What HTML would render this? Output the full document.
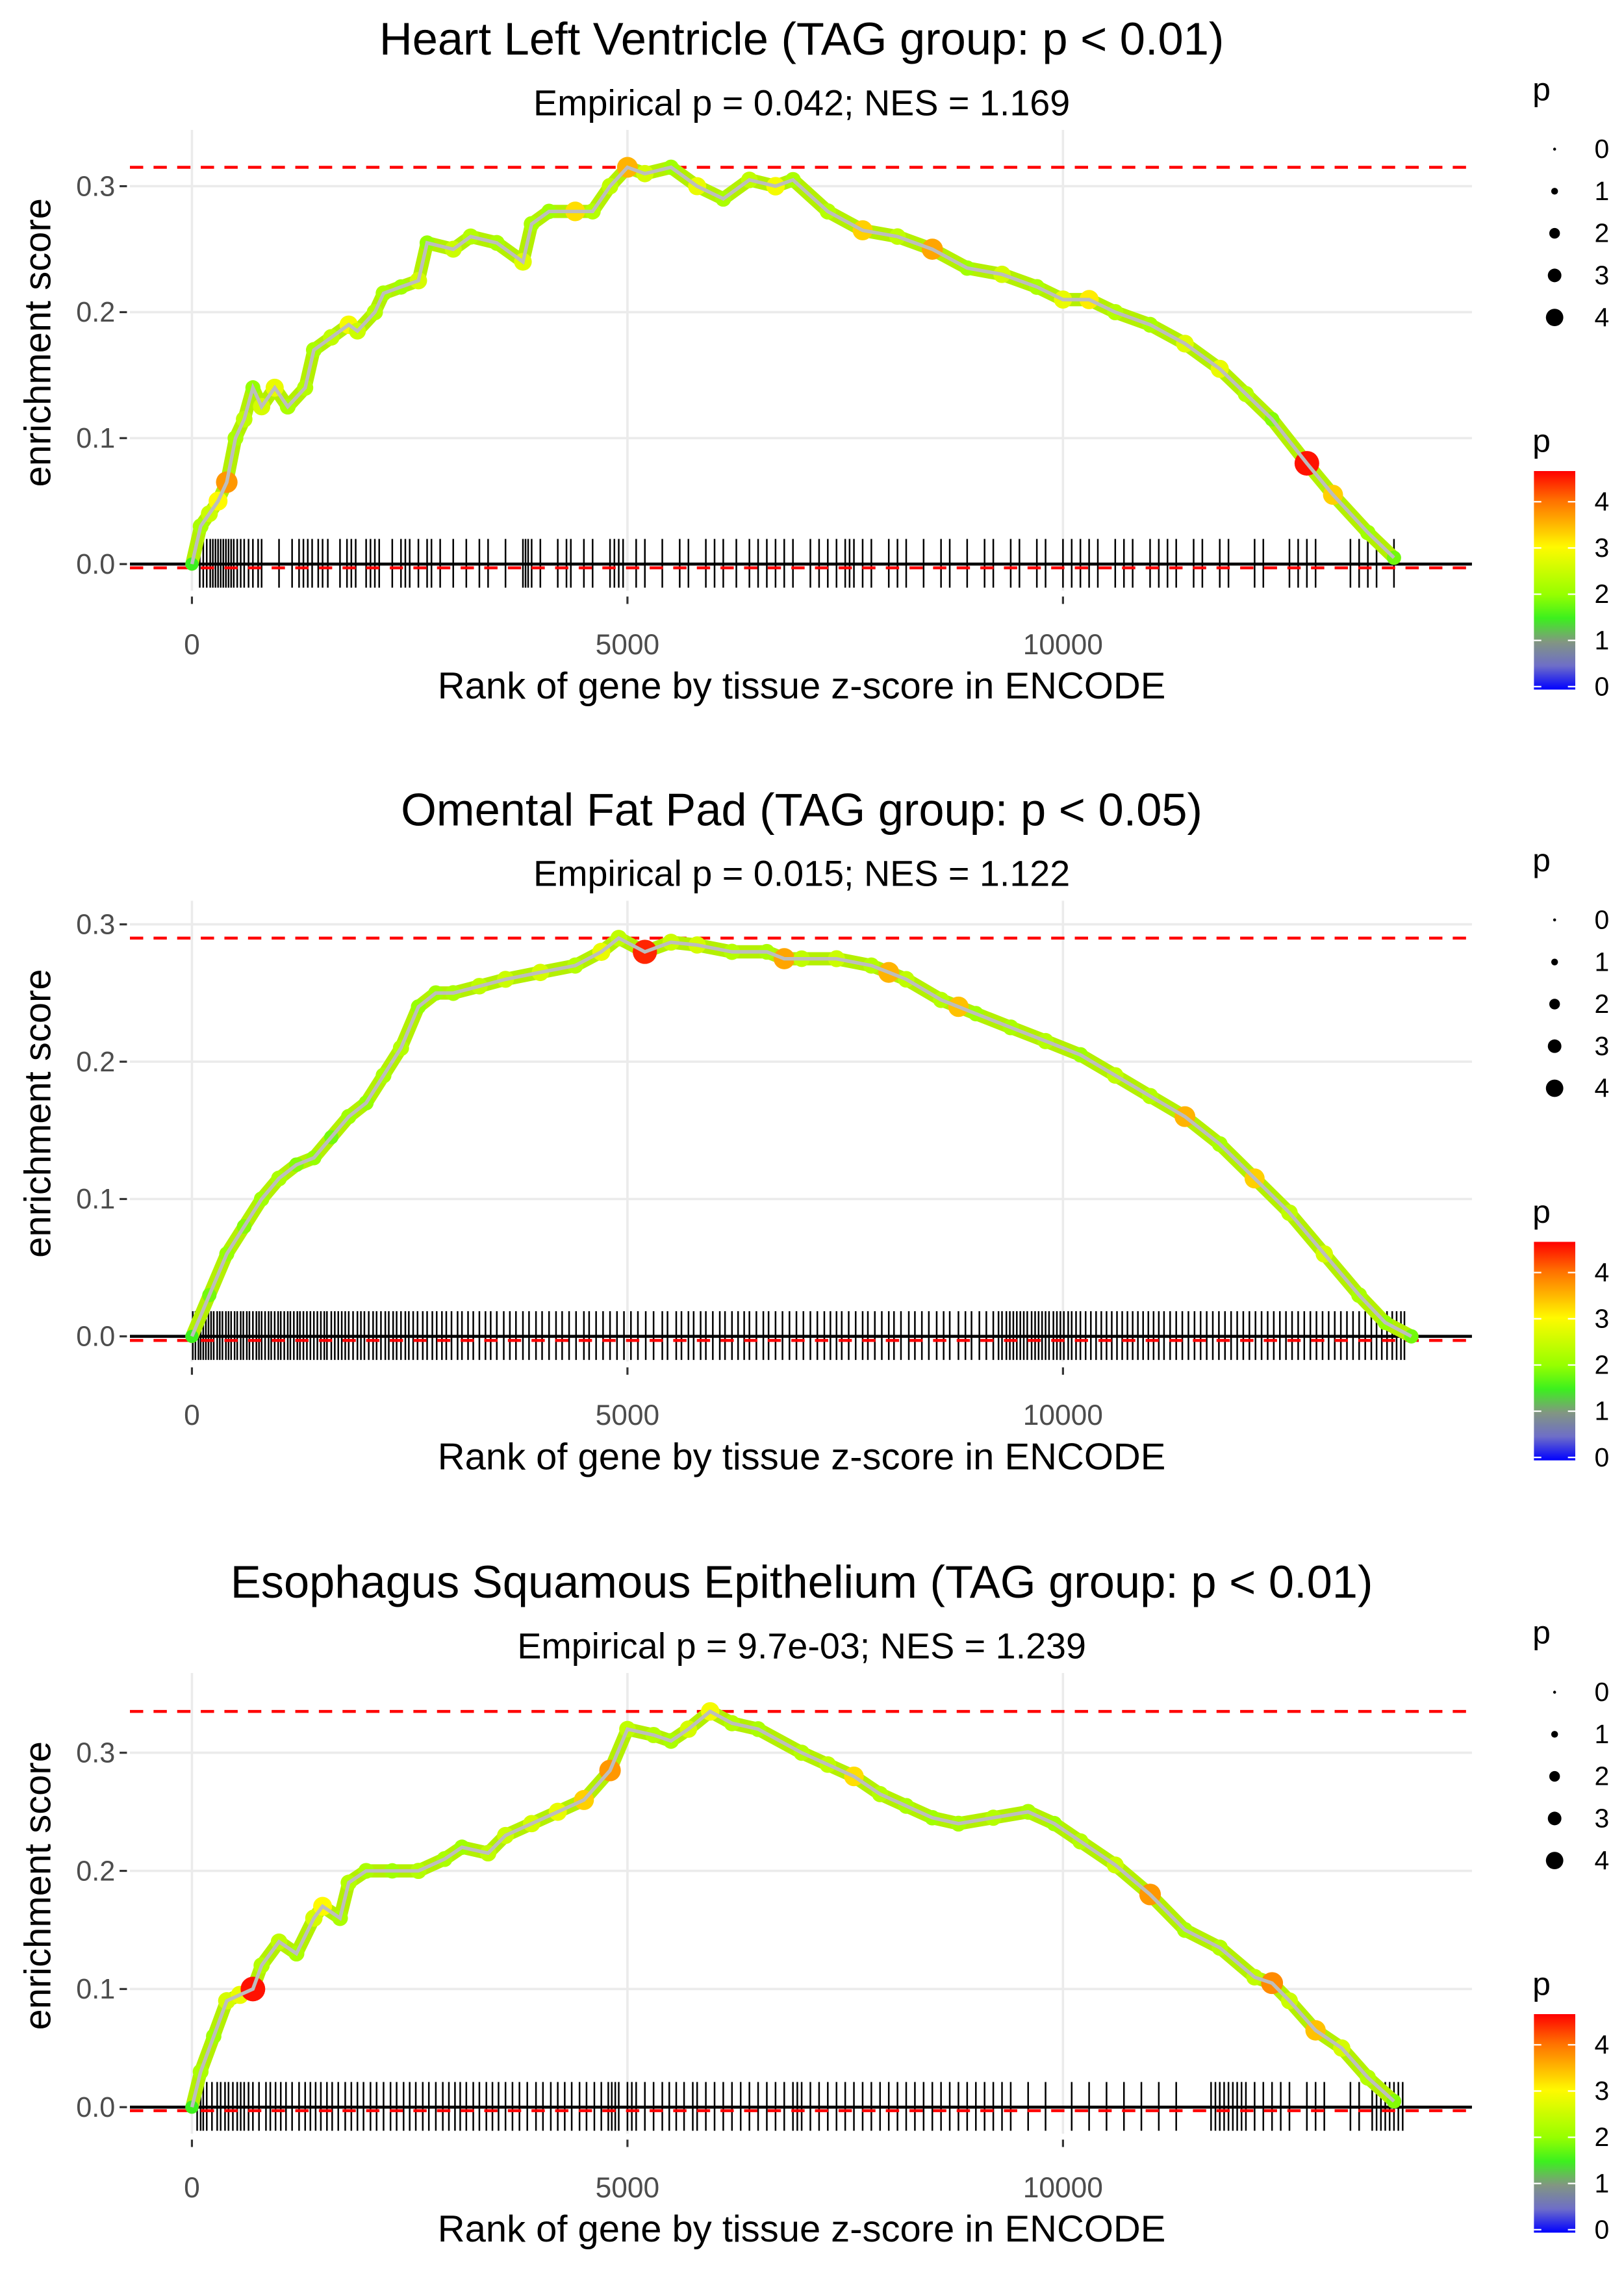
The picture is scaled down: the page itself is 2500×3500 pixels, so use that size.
<!DOCTYPE html>
<html><head><meta charset="utf-8"><style>
html,body{margin:0;padding:0;background:#fff}
svg{display:block;font-family:"Liberation Sans",sans-serif}
</style></head><body>
<svg id="chart" width="2500" height="3500" viewBox="0 0 1100 1540" xmlns="http://www.w3.org/2000/svg"></svg>
<script>
// ---- Panel 1: Heart Left Ventricle ----
const p1Rank=[0,100,200,300,400,500,600,700,800,950,1100,1300,1400,1600,1800,1900,2100,2200,2400,2600,2700,3000,3200,3500,3800,3900,4100,4400,4600,4800,5000,5200,5500,5800,6100,6400,6700,6900,7300,7700,8100,8500,8900,9300,9700,10000,10300,10600,11000,11400,11800,12100,12400,12800,13100,13500,13800];
const p1ES=[0,0.03,0.04,0.05,0.065,0.1,0.115,0.14,0.125,0.14,0.125,0.14,0.17,0.18,0.19,0.185,0.2,0.215,0.22,0.225,0.255,0.25,0.26,0.255,0.24,0.27,0.28,0.28,0.28,0.30,0.315,0.31,0.315,0.30,0.29,0.305,0.30,0.305,0.28,0.265,0.26,0.25,0.235,0.23,0.22,0.21,0.21,0.2,0.19,0.175,0.155,0.135,0.115,0.08,0.055,0.025,0.005];
const p1P=[1.5,2.2,2.5,3,3.7,2.2,2.4,2,2.6,2.8,2.2,2.3,2.2,2.4,2.9,2.5,2.3,2.2,2.1,2.6,2,2.5,2.3,2.2,2.7,2.2,2.1,3.2,2.3,2.4,3.5,2.6,2.1,2.8,2.2,2.4,2.9,2.2,2.3,3.3,2.4,3.6,2.1,2.6,2.2,2.8,3.1,2.3,2.2,2.7,2.8,2.3,1.9,4.5,3.3,2.1,1.8];
const p1Rug=[90,130,170,210,240,270,300,330,360,390,420,450,480,520,560,600,650,700,760,800,1000,1150,1230,1280,1330,1380,1450,1500,1560,1700,1780,1830,1880,2000,2050,2100,2150,2300,2400,2450,2500,2600,2700,2750,2850,3000,3150,3300,3400,3600,3800,3830,3860,3900,4000,4200,4300,4350,4500,4600,4800,4850,4900,4950,5100,5200,5400,5600,5700,5900,6000,6100,6250,6400,6500,6600,6700,6800,6900,7100,7200,7300,7400,7500,7550,7600,7700,7800,8000,8100,8200,8400,8600,8700,8900,9100,9200,9400,9500,9700,9800,10000,10100,10200,10300,10400,10600,10700,10800,11000,11100,11200,11300,11500,11600,11800,11900,12200,12300,12600,12700,12800,12900,13300,13400,13500,13600,13800];
// ---- Panel 2: Omental Fat Pad ----
const p2Rank=[0,200,400,600,800,1000,1200,1400,1600,1800,2000,2200,2400,2600,2800,3000,3300,3600,4000,4400,4700,4900,5200,5500,5800,6200,6600,6800,7000,7400,7800,8000,8200,8600,8800,9000,9400,9800,10200,10600,11000,11400,11800,12200,12600,13000,13400,13700,14000];
const p2ES=[0,0.03,0.06,0.08,0.1,0.115,0.125,0.13,0.145,0.16,0.17,0.19,0.21,0.24,0.25,0.25,0.255,0.26,0.265,0.27,0.28,0.29,0.28,0.287,0.285,0.28,0.28,0.275,0.275,0.275,0.27,0.265,0.26,0.245,0.24,0.235,0.225,0.215,0.205,0.19,0.175,0.16,0.14,0.115,0.09,0.06,0.03,0.01,0];
const p2P=[1.5,1.8,2,1.9,2.1,2.2,1.9,2,1.8,2.1,2,2.2,2.3,2,2.1,2.2,2.4,2.5,2.6,2.3,2.8,2.4,4.4,2.5,2.6,2.3,2.2,3.6,2.4,2.5,2.3,3.5,2.4,2.3,3.4,2.1,2.2,2.3,2.1,2.4,2.3,3.5,2.2,3.3,2.4,2.6,2.2,2,1.8];
const p2Rug=[10,40,75,100,130,160,190,220,250,290,320,350,390,420,450,490,520,560,590,630,660,700,740,770,800,840,880,910,950,990,1020,1060,1100,1130,1170,1210,1240,1280,1320,1360,1400,1440,1480,1520,1550,1600,1640,1680,1720,1760,1800,1850,1900,1940,1980,2030,2080,2120,2170,2220,2260,2310,2350,2400,2450,2490,2540,2590,2650,2700,2760,2810,2870,2920,2980,3050,3100,3170,3230,3300,3370,3430,3500,3580,3650,3720,3800,3870,3950,4020,4100,4180,4250,4330,4410,4500,4560,4640,4720,4800,4880,4960,5040,5120,5210,5300,5400,5460,5560,5620,5700,5760,5840,5900,5980,6060,6120,6200,6270,6340,6400,6480,6560,6620,6700,6780,6860,6940,7020,7100,7180,7260,7330,7400,7460,7540,7620,7700,7760,7840,7920,8000,8060,8140,8230,8300,8380,8460,8550,8630,8700,8800,8880,8950,9040,9120,9200,9260,9300,9350,9390,9430,9470,9510,9550,9590,9640,9680,9720,9760,9800,9840,9890,9930,9970,10010,10060,10100,10150,10200,10260,10320,10380,10440,10500,10560,10620,10680,10740,10800,10860,10920,10980,11040,11100,11160,11230,11300,11370,11440,11510,11580,11650,11720,11790,11860,11930,12000,12070,12140,12210,12280,12350,12420,12490,12560,12630,12700,12770,12840,12910,12980,13050,13120,13190,13260,13330,13400,13470,13540,13600,13660,13720,13780,13830,13880,13920];
// ---- Panel 3: Esophagus Squamous Epithelium ----
const p3Rank=[0,100,250,400,550,700,800,1000,1200,1400,1500,1700,1800,2000,2300,2600,2900,3100,3400,3600,3900,4200,4500,4800,5000,5300,5500,5700,5950,6200,6500,7000,7300,7600,7900,8200,8500,8800,9200,9600,9900,10200,10600,11000,11400,11800,12200,12400,12600,12900,13200,13500,13800];
const p3ES=[0,0.03,0.06,0.09,0.095,0.1,0.12,0.14,0.13,0.16,0.17,0.16,0.19,0.2,0.2,0.2,0.21,0.22,0.215,0.23,0.24,0.25,0.26,0.285,0.32,0.315,0.31,0.32,0.335,0.325,0.32,0.3,0.29,0.28,0.265,0.255,0.245,0.24,0.245,0.25,0.24,0.225,0.205,0.18,0.15,0.135,0.11,0.105,0.09,0.065,0.05,0.025,0.005];
const p3P=[1.5,2.2,2.1,2.6,2.8,4.5,2.3,2.4,2.2,2.6,3,2.2,2.3,2.2,2.1,2.3,2.2,2.1,2.4,2.5,2.6,2.8,3.3,3.7,2.4,2.3,2.2,2.6,2.9,2.3,2.2,2.3,2.4,3.2,2.3,2.2,2.1,2.2,2.3,2.2,2.1,2.3,2.5,3.7,2.2,2.3,2.4,3.8,2.5,3.4,2.6,2.3,1.9];
const p3Rug=[60,100,130,170,230,290,330,380,420,470,520,560,600,650,700,770,850,900,960,1020,1080,1150,1230,1300,1360,1420,1480,1550,1610,1680,1760,1830,1900,1970,2050,2120,2200,2280,2350,2430,2500,2570,2650,2720,2800,2880,2950,3020,3080,3150,3230,3300,3380,3450,3520,3600,3680,3760,3850,3950,4030,4120,4200,4280,4360,4450,4530,4620,4700,4780,4820,4860,4900,5000,5050,5100,5200,5300,5400,5480,5560,5650,5750,5800,5900,6000,6100,6200,6300,6400,6500,6600,6700,6800,6900,6950,7000,7100,7200,7300,7400,7500,7600,7700,7800,7900,8000,8100,8200,8300,8400,8500,8600,8700,8800,8900,9000,9100,9200,9300,9400,9600,9800,10100,10300,10500,10700,10900,11100,11300,11700,11750,11800,11850,11900,11950,12000,12050,12100,12200,12300,12400,12500,12600,12800,12900,13000,13300,13400,13550,13600,13650,13700,13750,13800,13850,13900];

const NS="http://www.w3.org/2000/svg";
const svg=document.getElementById('chart');
function mk(tag,attrs,parent){const e=document.createElementNS(NS,tag);for(const k in attrs)e.setAttribute(k,attrs[k]);(parent||svg).appendChild(e);return e;}
function txt(s,attrs,parent){const e=mk('text',attrs,parent);e.textContent=s;return e;}
const stops=[[0,[0,0,255]],[0.5,[110,110,200]],[1,[130,150,130]],[1.5,[60,240,30]],[2,[150,255,0]],[3,[255,250,0]],[3.6,[255,165,0]],[4,[255,110,0]],[4.6,[255,0,0]]];
function pcol(p){if(p<=0)return 'rgb(0,0,255)';for(let i=1;i<stops.length;i++){if(p<=stops[i][0]){const a=stops[i-1],b=stops[i],t=(p-a[0])/(b[0]-a[0]);const c=a[1].map((v,j)=>Math.round(v+(b[1][j]-v)*t));return `rgb(${c})`;}}return 'rgb(255,0,0)';}
function prad(p){return 2.5+p*1.3;}

const panels=[
 {title:'Heart Left Ventricle (TAG group: p < 0.01)',sub:'Empirical p = 0.042; NES = 1.169',dy:0,y0:382,perUnit:853,ranks:p1Rank,es:p1ES,ps:p1P,rug:p1Rug,key:'heart'},
 {title:'Omental Fat Pad (TAG group: p < 0.05)',sub:'Empirical p = 0.015; NES = 1.122',dy:522,y0:905,perUnit:930,ranks:p2Rank,es:p2ES,ps:p2P,rug:p2Rug,key:'omental'},
 {title:'Esophagus Squamous Epithelium (TAG group: p < 0.01)',sub:'Empirical p = 9.7e-03; NES = 1.239',dy:1045,y0:1427,perUnit:800,ranks:p3Rank,es:p3ES,ps:p3P,rug:p3Rug,key:'esophagus'}
];
const xTicks=[0,5000,10000];
const yTicks=[0,0.1,0.2,0.3];
const legendSizes=[0,1,2,3,4];
const PL=88,PR=997;
function xs(r){return 130+r*0.059;}

panels.forEach((P,pi)=>{
 const g=mk('g',{});
 
 
 const ys=v=>P.y0-v*P.perUnit;
 const top=88+P.dy,bot=400+P.dy;
 const t=txt(P.title,{x:543,y:37+P.dy,'text-anchor':'middle','font-size':31,fill:'#000'},g);
 
 
 const s=txt(P.sub,{x:543,y:78+P.dy,'text-anchor':'middle','font-size':24.5,fill:'#000'},g);
 
 
 yTicks.forEach(v=>{const l=mk('line',{x1:PL,x2:PR,y1:ys(v),y2:ys(v),stroke:'#ebebeb','stroke-width':1.6},g);
  
  
  const lb=txt(v.toFixed(1),{x:78,y:ys(v)+6.5,'text-anchor':'end','font-size':19,fill:'#4d4d4d'},g);
  
  
  mk('line',{x1:81,x2:86,y1:ys(v),y2:ys(v),stroke:'#333','stroke-width':1.4},g);});
 xTicks.forEach(v=>{const l=mk('line',{x1:xs(v),x2:xs(v),y1:top,y2:bot,stroke:'#ebebeb','stroke-width':1.6},g);
  
  
  mk('line',{x1:xs(v),x2:xs(v),y1:bot+4,y2:bot+9,stroke:'#333','stroke-width':1.4},g);
  const lb=txt(String(v),{x:xs(v),y:bot+43,'text-anchor':'middle','font-size':19.5,fill:'#4d4d4d'},g);
  
  });
 const xt=txt('Rank of gene by tissue z-score in ENCODE',{x:543,y:bot+73,'text-anchor':'middle','font-size':25.5,fill:'#000'},g);
 
 
 const yt=txt('enrichment score',{x:0,y:0,'text-anchor':'middle','font-size':25.5,fill:'#000',transform:`translate(34,${(top+bot)/2-12}) rotate(-90)`},g);
 
 
 P.rug.forEach(r=>{const l=mk('line',{x1:xs(r),x2:xs(r),y1:P.y0-17,y2:P.y0+16,stroke:'#000','stroke-width':1.1},g);
  
  });
 const zl=mk('line',{x1:PL,x2:PR,y1:P.y0,y2:P.y0,stroke:'#000','stroke-width':2},g);
 
 
 const mx=Math.max(...P.es);
 const d1=mk('line',{x1:PL,x2:PR,y1:ys(mx),y2:ys(mx),stroke:'#f00','stroke-width':2,'stroke-dasharray':'9 7'},g);
 
 
 const d2=mk('line',{x1:PL,x2:PR,y1:ys(-0.003),y2:ys(-0.003),stroke:'#f00','stroke-width':2,'stroke-dasharray':'9 7'},g);
 
 
 // thick colored band underneath (mimics dense overlapping points)
 const path=P.ranks.map((r,i)=>`${xs(r).toFixed(1)},${ys(P.es[i]).toFixed(1)}`).join(' ');
 const band=mk('polyline',{points:path,fill:'none',stroke:'#b4f000','stroke-width':9,'stroke-linejoin':'round','stroke-linecap':'round'},g);
 
 
 P.ranks.forEach((r,i)=>{const c=mk('circle',{cx:xs(r),cy:ys(P.es[i]),r:prad(P.ps[i]),fill:pcol(P.ps[i])},g);
  
  });
 const pl=mk('polyline',{points:path,fill:'none',stroke:'#bdbdbd','stroke-width':2.4},g);
 
 
 const lg=mk('g',{},g);
 
 
 txt('p',{x:1038,y:68+P.dy,'font-size':22,fill:'#000'},lg);
 legendSizes.forEach((v,i)=>{mk('circle',{cx:1053,cy:101+i*28.5+P.dy,r:[1,2.3,3.6,4.6,5.9][i],fill:'#000'},lg);
  txt(String(v),{x:1080,y:107+i*28.5+P.dy,'font-size':18,fill:'#000'},lg);});
 const cg=mk('g',{},g);
 
 
 txt('p',{x:1038,y:306+P.dy,'font-size':22,fill:'#000'},cg);
 const gid='grad'+pi;
 const defs=mk('defs',{},cg);
 const lgd=mk('linearGradient',{id:gid,x1:0,y1:1,x2:0,y2:0},defs);
 stops.forEach(s=>mk('stop',{offset:(s[0]/4.6),'stop-color':`rgb(${s[1]})`},lgd));
 mk('rect',{x:1039,y:319+P.dy,width:28,height:148,fill:`url(#${gid})`},cg);
 legendSizes.forEach(v=>{const yy=465+P.dy-v*31.3;
  mk('line',{x1:1039,x2:1044,y1:yy,y2:yy,stroke:'#fff','stroke-width':1},cg);
  mk('line',{x1:1062,x2:1067,y1:yy,y2:yy,stroke:'#fff','stroke-width':1},cg);
  txt(String(v),{x:1080,y:yy+6,'font-size':18,fill:'#000'},cg);});
});
</script>
</body></html>
